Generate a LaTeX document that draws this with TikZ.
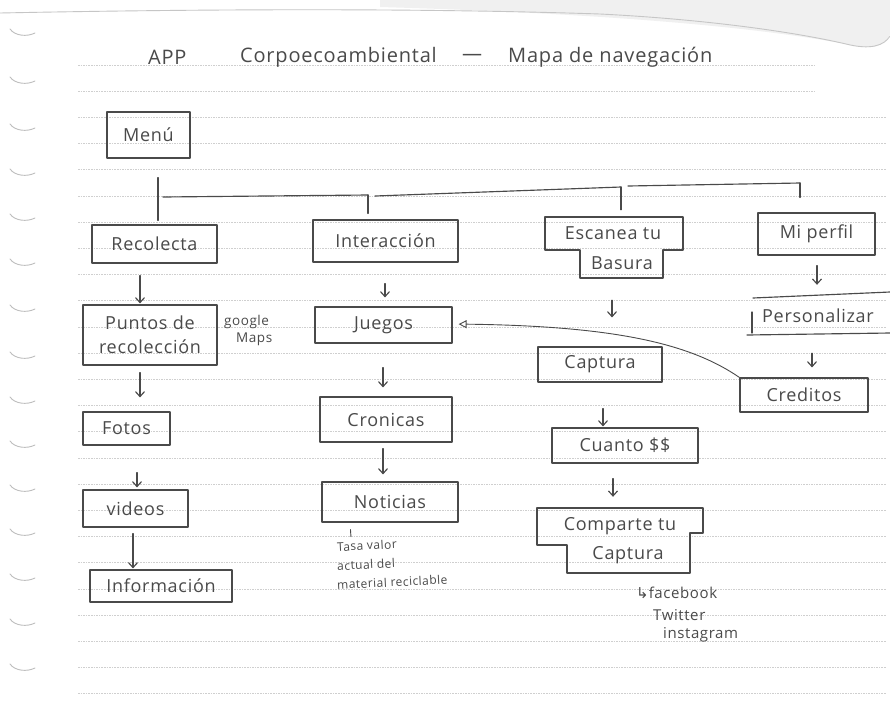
\documentclass[tikz,border=0pt]{standalone}
\usepackage{fontspec}
\setmainfont{Open Sans}[LetterSpace=4]
\newfontfamily\symfont{DejaVu Sans}
\usetikzlibrary{arrows.meta}
\definecolor{pen}{HTML}{4A4A4A}
\definecolor{rulegray}{HTML}{CFCFCF}
\definecolor{margingray}{HTML}{BEBEBE}
\newcommand\handfont{\fontsize{18}{24}\selectfont}
\newcommand\titlefont{\fontsize{20}{24}\selectfont}
\newcommand\notefont{\fontsize{13.5}{17}\selectfont}
\newcommand\listfont{\fontsize{15}{18}\selectfont}
\newcommand\tinyfont{\fontsize{12}{14}\selectfont}
\begin{document}
\begin{tikzpicture}[x=1pt,y=-1pt,
  pencil/.style={draw=pen,line width=1.15pt,line cap=round,line join=round},
  box/.style={pencil,rectangle,inner sep=0pt,text=pen,font=\handfont,align=center},
  bare/.style={rectangle,inner sep=0pt,text=pen,font=\handfont,align=center},
  txt/.style={inner sep=0pt,text=pen},
  slant/.style={txt,font=\tinyfont,anchor=west,rotate=3},
  arr/.style={pencil,-{Straight Barb[length=5pt,width=9pt]}},
  back/.style={pencil,line width=0.9pt,-{Triangle[open,length=8pt,width=8pt]}},
]
\useasboundingbox (0,0) rectangle (890,702);
\fill[white] (0,0) rectangle (890,702);

% page edge and the curled corner
\fill[gray!12] (380,0) -- (890,0) -- (890,34)
  .. controls (884,48) and (868,50) .. (846,44)
  .. controls (760,28) and (620,14) .. (380,7) -- cycle;
\draw[gray!45,line width=0.9pt] (0,13) .. controls (200,9) and (420,8) .. (600,14)
  .. controls (700,19) and (790,31) .. (846,44)
  .. controls (870,50) and (884,46) .. (890,36);

% ruled lines
\foreach \k in {0,...,24}{
  \draw[rulegray,line width=0.7pt,dash pattern=on 1.6pt off 1pt]
    (78,{65+26.2*\k}) -- ({\k<2 ? 815 : 886},{65+26.2*\k});
}

% spiral marks in the margin
\foreach \y in {32,80,127,172,217,262,308,355,400,444,488,532,577,622,667}{
  \draw[margingray,line width=0.9pt,line cap=round]
    (10,{\y-3}) .. controls (15,{\y+4}) and (27,{\y+5}) .. (35,{\y+1});
}

% title
\node[txt,font=\titlefont,anchor=west] (tApp) at (148,57) {APP};
\node[txt,font=\titlefont,anchor=west] (tName) at (240,57) {Corpoecoambiental};
\node[txt,font=\titlefont] (tDash) at (472,57) {—};
\node[txt,font=\titlefont,anchor=west] (tMap) at (508,57) {Mapa de navegación};

% boxes
\node[box,minimum width=83,minimum height=46] (menu) at (148.5,135) {Menú};
\node[box,minimum width=125,minimum height=38] (recolecta) at (154.5,244) {Recolecta};
\node[box,minimum width=145,minimum height=42] (interaccion) at (385.5,241) {Interacción};
\node[bare,minimum width=138,minimum height=61] (escanea) at (614,247.5) {};
\node[txt,font=\handfont] (escA) at (613,233) {Escanea tu};
\node[txt,font=\handfont] (escB) at (622,263) {Basura};
\node[box,minimum width=117,minimum height=42] (miperfil) at (816.5,234) {Mi perfil};
\node[bare,minimum width=140,minimum height=38] (personalizar) at (820,316) {};
\node[txt,font=\handfont] (persT) at (818,316) {Personalizar};
\node[box,minimum width=128,minimum height=34] (creditos) at (804,395) {Creditos};
\node[box,minimum width=134,minimum height=60] (puntos) at (150,335) {Puntos de\\recolección};
\node[box,minimum width=137,minimum height=36] (juegos) at (383.5,325) {Juegos};
\node[box,minimum width=124,minimum height=35] (captura) at (600,364.5) {Captura};
\node[box,minimum width=87,minimum height=33] (fotos) at (126.5,428.5) {Fotos};
\node[box,minimum width=132,minimum height=45] (cronicas) at (386,419.5) {Cronicas};
\node[box,minimum width=146,minimum height=35] (cuanto) at (625,445.5) {Cuanto \$\$};
\node[box,minimum width=105,minimum height=37] (videos) at (135.5,508.5) {videos};
\node[box,minimum width=136,minimum height=40] (noticias) at (390,502) {Noticias};
\node[bare,minimum width=166,minimum height=65] (comparte) at (620,540.5) {};
\node[txt,font=\handfont] (compA) at (620,526) {Comparte tu};
\node[txt,font=\handfont] (compB) at (628,555) {Captura};
\node[box,minimum width=142,minimum height=32] (informacion) at (161,586) {Información};

% outlines of the stepped boxes and the open one
\draw[pencil] (545,217) -- (683,217) -- (683,250) -- (663,250) -- (663,278)
  -- (580,278) -- (580,250) -- (545,250) -- cycle;
\draw[pencil] (537,508) -- (703,508) -- (703,533) -- (690,533) -- (690,573)
  -- (567,573) -- (567,545) -- (537,545) -- cycle;
\draw[pencil] (753,298) -- (890,292);
\draw[pencil] (747,335) -- (890,333);
\draw[pencil] (752,312) -- (752,333);

% side notes
\node[txt,font=\notefont,align=left,anchor=north west] (gmaps) at (224,315) {google\\\hspace*{12pt}Maps};
\node[slant] (tasaA) at (337,547) {Tasa valor};
\node[slant] (tasaB) at (337,566) {actual del};
\node[slant] (tasaC) at (337,585) {material reciclable};
\node[txt,font=\listfont,anchor=west] (fb) at (636,593) {{\symfont ↳}facebook};
\node[txt,font=\listfont,anchor=west] (tw) at (653,615) {Twitter};
\node[txt,font=\listfont,anchor=west] (ig) at (663,635) {instagram};

% menu tree
\coordinate (busL) at (163,197);
\coordinate (jI) at (368,195);
\coordinate (jIb) at (375,196);
\coordinate (jE) at (621,187);
\coordinate (jEb) at (628,186);
\coordinate (jM) at (800,183);
\draw[pencil,shorten <=19pt,shorten >=4pt] ([xshift=9.5pt]menu.south) -- ([xshift=3.5pt]recolecta.north);
\draw[pencil] (busL) -- (jI);
\draw[pencil] (jIb) -- (jE);
\draw[pencil] (jEb) -- (jM);
\draw[pencil,shorten >=6pt] (jI) -- (interaccion.north -| jI);
\draw[pencil,shorten >=7pt] (jE) -- (escanea.north -| jE);
\draw[pencil,shorten >=15pt] (jM) -- (miperfil.north -| jM);

% navigation arrows
\draw[arr,shorten <=12pt,shorten >=1pt] ([xshift=-14.5pt]recolecta.south) -- ([xshift=-10pt]puntos.north);
\draw[arr,shorten <=7pt,shorten >=14pt] ([xshift=-10pt]puntos.south) -- ([xshift=13.5pt]fotos.north);
\draw[arr,shorten <=27pt,shorten >=2pt] ([xshift=10.5pt]fotos.south) -- ([xshift=1.5pt]videos.north);
\draw[arr,shorten <=6pt,shorten >=1pt] ([xshift=-2.5pt]videos.south) -- ([xshift=-28pt]informacion.north);
\draw[arr,shorten <=21pt,shorten >=9pt] ([xshift=-0.5pt]interaccion.south) -- ([xshift=1.5pt]juegos.north);
\draw[arr,shorten <=24pt,shorten >=9pt] ([xshift=-0.5pt]juegos.south) -- ([xshift=-3pt]cronicas.north);
\draw[arr,shorten <=6pt,shorten >=7pt] ([xshift=-3pt]cronicas.south) -- ([xshift=-7pt]noticias.north);
\draw[arr,shorten <=22pt,shorten >=29pt] ([xshift=-2pt]escanea.south) -- ([xshift=12pt]captura.north);
\draw[arr,shorten <=26pt,shorten >=1pt] ([xshift=3pt]captura.south) -- ([xshift=-22pt]cuanto.north);
\draw[arr,shorten <=15pt,shorten >=11pt] ([xshift=-12pt]cuanto.south) -- ([xshift=-7pt]comparte.north);
\draw[arr,shorten <=10pt,shorten >=12pt] ([xshift=0.5pt]miperfil.south) -- ([xshift=-3pt]personalizar.north);
\draw[arr,shorten <=18pt,shorten >=10pt] ([xshift=-8pt]personalizar.south) -- ([xshift=8pt]creditos.north);
\draw[back,shorten >=6pt] (creditos.north west) .. controls (692,345) and (620,326) .. (juegos.east |- 0,324);
\draw[pencil,line width=0.9pt,shorten <=7pt,shorten >=1pt] ([xshift=-40pt]noticias.south) -- ([xshift=-39pt,yshift=-15pt]noticias.south);
\end{tikzpicture}
\end{document}
